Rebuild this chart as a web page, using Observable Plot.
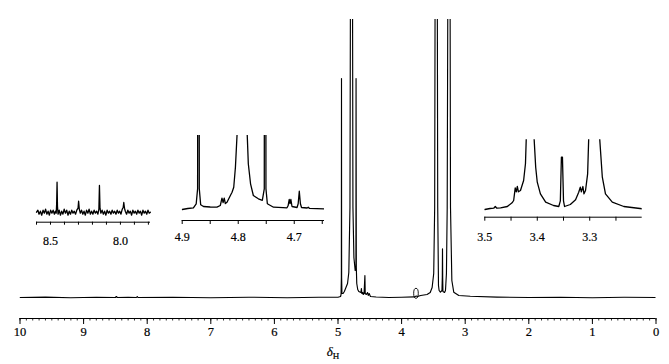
<!DOCTYPE html>
<html><head><meta charset="utf-8">
<script src="https://cdn.jsdelivr.net/npm/d3@7"></script>
<script src="https://cdn.jsdelivr.net/npm/@observablehq/plot@0.6"></script>
<style>
html,body{margin:0;padding:0;background:#fff;}
#chart{position:relative;width:669px;height:364px;overflow:hidden;background:#fff;}
#chart svg{position:absolute;left:0;top:0;}
</style></head><body><div id="chart"></div>
<script>
// ---- data: [ppm, intensity] ----
const mainSpectrum = [
[10.0,0],[9.6,0.4],[9.2,-0.3],[8.8,0.3],[8.5,0],[8.485,1],[8.47,0],[8.3,0.3],[8.17,0],[8.157,1],[8.145,0],
[7.6,0.3],[7.0,-0.3],[6.4,0.3],[5.8,-0.2],[5.3,0.3],[5.0,0.3],[4.96,1],
[4.952,3],[4.947,20],[4.945,219],[4.943,20],[4.938,4],[4.92,4],[4.90,6],[4.875,10],[4.85,14],[4.83,25],
[4.812,90],[4.803,350],[4.788,2000],[4.773,350],[4.765,90],[4.75,40],[4.73,27],[4.718,30],[4.716,219],[4.712,30],
[4.705,14],[4.69,8],[4.673,6],[4.64,5],[4.632,9],[4.625,4],[4.61,5],[4.605,3],[4.59,4],[4.577,22],[4.572,4],
[4.555,3],[4.535,5],[4.525,2],[4.51,4],[4.49,1],[4.4,0.5],[4.2,0],[4.0,0.3],[3.8,0.6],[3.77,1.5],[3.75,1],
[3.70,2],[3.6,3],[3.55,5],[3.52,10],[3.495,24],[3.480,90],[3.472,350],[3.456,2000],[3.440,350],[3.432,90],
[3.42,12],[3.41,7],[3.39,5.3],[3.365,7],[3.360,20],[3.357,48.7],[3.354,20],[3.35,6],[3.325,5],[3.31,7],
[3.295,24],[3.283,90],[3.271,350],[3.255,2000],[3.239,350],[3.231,90],[3.21,17],[3.18,5.3],[3.10,2],
[2.92,1.3],[2.5,0.4],[2.0,0],[1.5,0.3],[1.0,-0.2],[0.5,0.2],[0,0]
];
const inset1Spectrum = [
[8.600,0],[8.590,2],[8.582,-2],[8.572,1],[8.563,-3],[8.553,2],[8.544,-1],[8.535,3],[8.526,-2],[8.517,1],
[8.508,-3],[8.499,2],[8.490,-1],[8.481,2],[8.472,-2],[8.465,1],[8.459,-1],[8.456,8],[8.453,30],[8.450,6],
[8.446,-2],[8.438,2],[8.429,-3],[8.420,1],[8.411,-2],[8.402,3],[8.393,-1],[8.384,2],[8.375,-3],[8.366,1],
[8.357,-2],[8.348,2],[8.339,-1],[8.330,1],[8.321,-2],[8.312,2],[8.303,4],[8.299,11],[8.294,3],[8.287,-1],
[8.278,2],[8.269,-2],[8.260,1],[8.251,-3],[8.242,2],[8.233,-1],[8.224,3],[8.215,-2],[8.206,1],[8.197,-2],
[8.188,2],[8.179,-1],[8.170,1],[8.161,-2],[8.154,3],[8.150,26.7],[8.146,4],[8.140,-1],[8.131,2],[8.122,-2],
[8.113,1],[8.104,-3],[8.095,2],[8.086,-1],[8.077,1],[8.068,-2],[8.059,2],[8.050,-1],[8.041,1],[8.032,-2],
[8.023,2],[8.014,-1],[8.005,1],[7.996,-2],[7.987,3],[7.980,5],[7.976,9.7],[7.971,4],[7.965,1],[7.956,-2],
[7.947,2],[7.938,-1],[7.929,1],[7.920,-3],[7.911,2],[7.902,-1],[7.893,1],[7.884,-2],[7.875,2],[7.866,-1],
[7.857,1],[7.848,-3],[7.839,2],[7.830,-1],[7.821,1],[7.812,-2],[7.803,2],[7.794,-1],[7.786,0]
];
const inset2Spectrum = [
[4.900,-0.7],[4.890,0.3],[4.880,1],[4.875,5],[4.8725,20],[4.871,1000],[4.8695,20],[4.867,4],[4.862,2.3],
[4.85,1.8],[4.838,1.6],[4.832,3.3],[4.829,10.6],[4.827,6.3],[4.825,10.6],[4.823,5.3],[4.820,6.6],
[4.814,13.3],[4.811,16.6],[4.808,21.6],[4.805,41.6],[4.802,75],[4.793,400],[4.784,75],[4.782,45],
[4.778,25],[4.773,13.3],[4.764,10],[4.757,8.5],[4.7535,20],[4.752,1000],[4.7505,20],[4.748,5],
[4.737,1.6],[4.72,1.2],[4.713,1],[4.711,3],[4.709,9.3],[4.7075,5.3],[4.706,9.3],[4.704,2.3],[4.695,1.3],
[4.693,5],[4.691,17.6],[4.689,5],[4.687,1.3],[4.677,0.8],[4.675,1.6],[4.673,0.5],[4.66,0.2],[4.647,0]
];
const inset3Spectrum = [
[3.500,-0.7],[3.490,0.3],[3.483,0.6],[3.480,2.3],[3.477,0.6],[3.470,1],[3.457,2.3],[3.448,6],[3.445,8.3],
[3.442,21],[3.440,17],[3.438,22.3],[3.436,17],[3.432,18.3],[3.426,28.3],[3.4225,45],[3.421,70],
[3.4135,400],[3.406,70],[3.403,41.6],[3.400,26.6],[3.394,15],[3.384,6.6],[3.369,3.3],[3.359,2.3],
[3.356,8],[3.354,51.6],[3.352,51.6],[3.350,8],[3.348,2.3],[3.337,4.3],[3.327,9],[3.321,16.6],[3.318,21.6],
[3.316,17],[3.313,22.3],[3.311,15],[3.308,18.3],[3.304,35],[3.302,70],[3.291,400],[3.281,70],[3.276,31.6],
[3.270,15],[3.257,6.6],[3.235,2.3],[3.2,0]
];
// tick values / labels
const mainMajorTicks = [10,9,8,7,6,5,4,3,2,1,0];
const mainMinorTicks = d3.range(0,101).map(i => i/10);
const inset1Ticks = [8.6,8.5,8.4,8.3,8.2,8.1,8.0,7.9,7.8];
const inset1Labels = [8.5,8.0];
const inset2Ticks = [4.9,4.85,4.8,4.75,4.7,4.65];
const inset2Labels = [4.9,4.8,4.7];
const inset3Ticks = [3.5,3.45,3.4,3.35,3.3,3.25];
const inset3Labels = [3.5,3.4,3.3];

const FONT = "Liberation Serif";
const chart = document.getElementById("chart");
const W = 669, H = 364;

// ---- main spectrum ----
const mainSvg = Plot.plot({
  width: W, height: H,
  marginLeft: 19.5, marginRight: 13.5, marginTop: 19, marginBottom: 46,
  style: {fontFamily: FONT, fontSize: "12.5px", color: "#000", background: "transparent"},
  x: {domain: [10, 0], ticks: mainMajorTicks, tickSize: 6, tickPadding: 3, tickFormat: d => String(d), label: null},
  y: {domain: [-21, 278], axis: null},
  marks: [
    Plot.ruleY([-21], {stroke: "#000", strokeWidth: 1}),
    Plot.ruleX(mainMinorTicks, {x: d => d, y1: -21, y2: -23.5, stroke: "#000", strokeWidth: 0.8}),
    Plot.line(mainSpectrum, {x: d => d[0], y: d => d[1], stroke: "#000", strokeWidth: 1.15, clip: true})
  ]
});
chart.appendChild(mainSvg);

// circle marker around small peak and axis title
const ms = d3.select(mainSvg);
const xs = d3.scaleLinear().domain([10, 0]).range([19.5, 655.5]);
ms.append("ellipse").attr("cx", xs(3.766)).attr("cy", 293.3).attr("rx", 2.3).attr("ry", 5)
  .attr("fill", "none").attr("stroke", "#000").attr("stroke-width", 0.9);
const tt = ms.append("text").attr("x", 333).attr("y", 356).attr("font-size", 13).attr("fill", "#000");
tt.append("tspan").attr("font-style", "italic").text("δ");
tt.append("tspan").attr("font-size", "9px").attr("dy", "3").text("H");

// ---- insets ----
function inset({data, domain, left, right, axisY, topY, baseY, ticks, labels, tickSize, tickPadding, clip}) {
  const svg = Plot.plot({
    width: W, height: H,
    marginLeft: left, marginRight: W - right, marginTop: topY, marginBottom: H - axisY,
    style: {fontFamily: FONT, fontSize: "12px", color: "#000", background: "transparent"},
    x: {domain, ticks, tickSize, tickPadding,
        tickFormat: d => labels.some(l => Math.abs(l - d) < 1e-9) ? d.toFixed(1) : "", label: null},
    y: {domain: [-(axisY - baseY), baseY - topY], axis: null},
    marks: [
      Plot.ruleY([-(axisY - baseY)], {stroke: "#000", strokeWidth: 1}),
      Plot.line(data, {x: d => d[0], y: d => d[1], stroke: "#000", strokeWidth: 1.3, clip})
    ]
  });
  chart.appendChild(svg);
}
inset({data: inset1Spectrum, domain: [8.6, 7.785], left: 36, right: 150, axisY: 221.7, topY: 170, baseY: 211.7,
       ticks: inset1Ticks, labels: inset1Labels, tickSize: 3, tickPadding: 10.8, clip: false});
inset({data: inset2Spectrum, domain: [4.9, 4.646], left: 181.7, right: 324, axisY: 220, topY: 135, baseY: 208.3,
       ticks: inset2Ticks, labels: inset2Labels, tickSize: 4, tickPadding: 7.5, clip: true});
inset({data: inset3Spectrum, domain: [3.5, 3.2], left: 484.3, right: 641.7, axisY: 216.7, topY: 139.3, baseY: 208.3,
       ticks: inset3Ticks, labels: inset3Labels, tickSize: 4, tickPadding: 10.8, clip: true});

// force the serif face on every text element (inline style)
d3.select(chart).selectAll("svg, svg g, svg text, svg tspan")
  .style("font-family", "'Liberation Serif', serif")
  .attr("font-family", "Liberation Serif");
d3.select(chart).selectAll("text").style("stroke", "#000").style("stroke-width", "0.2px");
</script></body></html>
